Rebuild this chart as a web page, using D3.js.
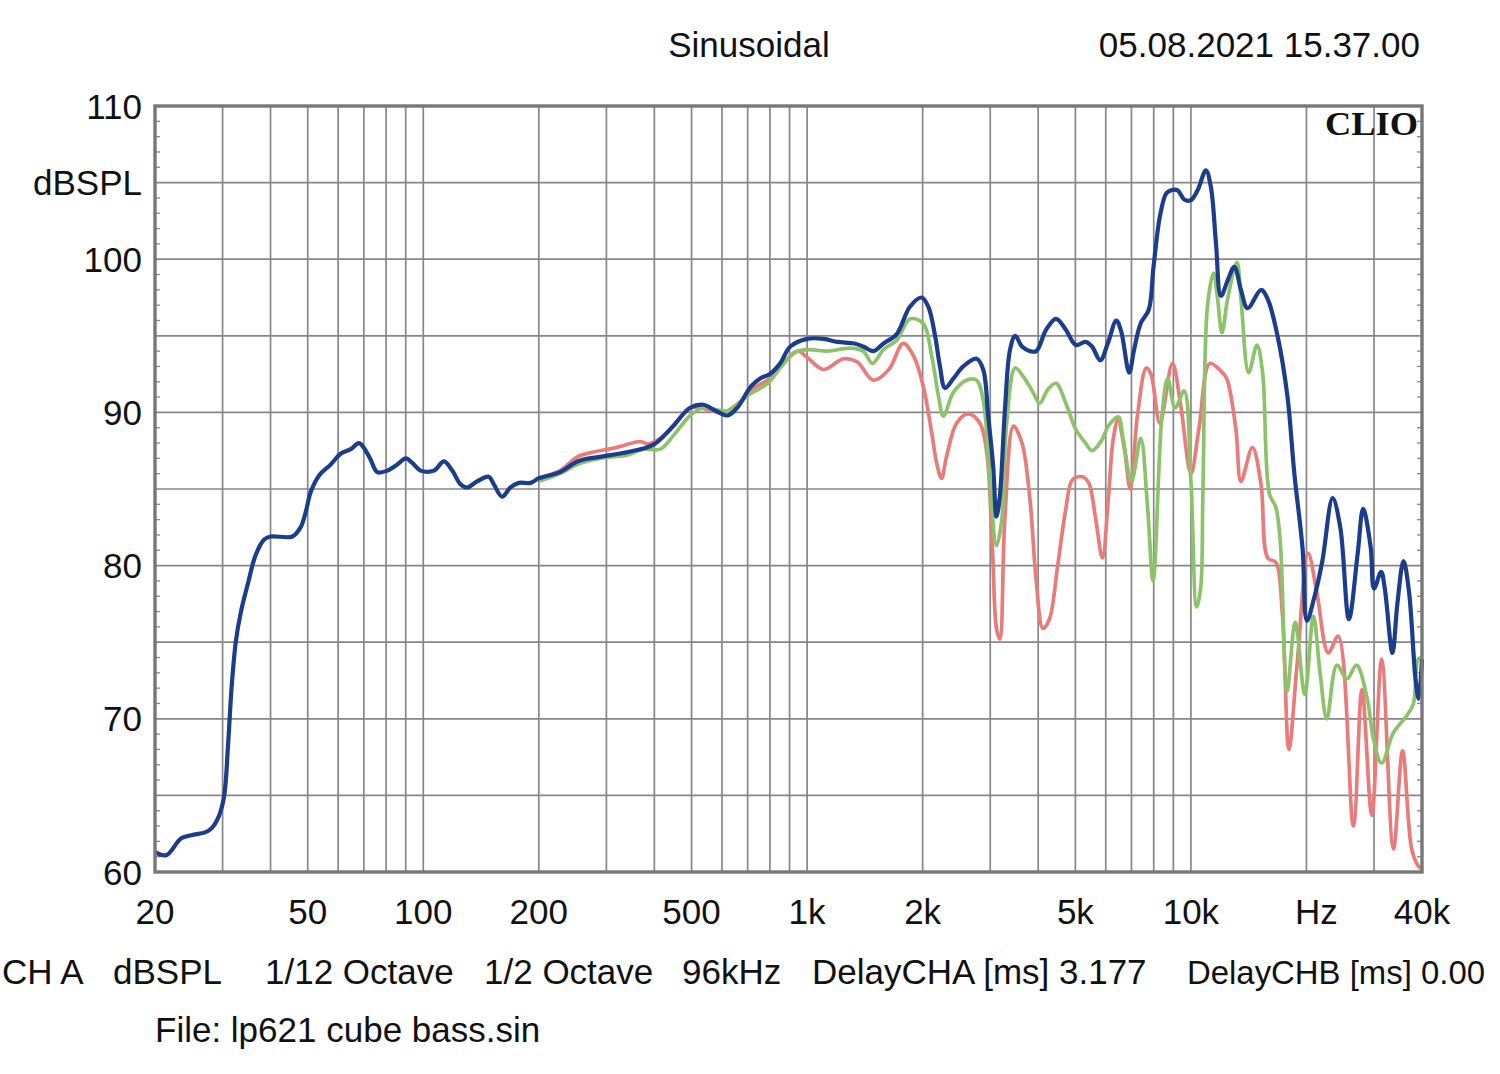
<!DOCTYPE html>
<html>
<head>
<meta charset="utf-8">
<script src="https://cdn.jsdelivr.net/npm/d3@7"></script>
<style>
  html, body { margin: 0; padding: 0; background: #ffffff; }
  svg { display: block; }
  text { font-family: "Liberation Sans", Arial, sans-serif; fill: #111; }
</style>
</head>
<body>
<svg id="chart" width="1500" height="1074"></svg>
<script>
// ---------- data ----------
const titleText = "Sinusoidal";
const dateText = "05.08.2021 15.37.00";
const brandText = "CLIO";
const yUnitLabel = "dBSPL";
const footerItems = ["CH A", "dBSPL", "1/12 Octave", "1/2 Octave", "96kHz", "DelayCHA [ms] 3.177", "DelayCHB [ms] 0.00"];
const fileText = "File: lp621 cube bass.sin";

const yTickLabels = [110, 100, 90, 80, 70, 60];
const xTickLabels = [
  {f: 20, t: "20"}, {f: 50, t: "50"}, {f: 100, t: "100"}, {f: 200, t: "200"},
  {f: 500, t: "500"}, {f: 1000, t: "1k"}, {f: 2000, t: "2k"}, {f: 5000, t: "5k"},
  {f: 10000, t: "10k"}, {f: 20000, t: "Hz"}, {f: 40000, t: "40k"}
];
const xGridFreqs = [20,30,40,50,60,70,80,90,100,200,300,400,500,600,700,800,900,
  1000,2000,3000,4000,5000,6000,7000,8000,9000,10000,20000,30000,40000];

// Blue curve (frequency Hz, dB SPL)
const blueFreq = [20,21.4,23.4,24.9,27.1,28.2,29.4,30.3,31,31.7,32.5,33.5,34.9,36.6,38.5,40,45.6,47.9,49.4,50.9,53.6,57.4,60.9,64.7,68,70.8,73,75.9,80.6,85.6,90,93.6,98.4,106.6,113.2,119,125.1,130.2,138.1,148.1,152.7,160.4,168.7,177.4,190.3,200,227,252,288,339,398,440,496,537,578,621,662,714,758,800,851,904,1000,1104,1199,1328,1400,1489,1581,1711,1853,1988,2069,2155,2219,2287,2404,2552,2764,2876,2964,3053,3114,3177,3277,3379,3485,3630,3808,3956,4196,4452,4722,5010,5313,5525,5804,6091,6390,6579,6906,7112,7396,7765,7991,8303,8629,8888,9232,9603,10000,10408,10942,11274,11618,11972,12462,12972,13502,14055,15230,15852,16813,17833,18600,19540,20050,21000,22000,23400,24500,25800,27200,28100,29400,30000,31300,32000,33500,34500,35800,37000,38500,39200,40000];
const blueDb = [61.3,61.1,62.2,62.4,62.6,62.9,63.7,65.0,68.3,72.2,75.1,77.0,78.8,80.7,81.7,81.9,81.9,82.5,83.5,84.8,85.9,86.6,87.3,87.6,88.0,87.5,86.9,86.1,86.2,86.6,87.0,86.7,86.2,86.2,86.8,86.2,85.3,85.1,85.5,85.8,85.3,84.5,85.1,85.4,85.4,85.7,86.1,86.8,87.1,87.4,87.9,88.9,90.3,90.5,90.1,89.8,90.4,91.7,92.25,92.5,93.2,94.3,94.8,94.8,94.6,94.5,94.3,94.0,94.5,95.1,96.9,97.5,96.9,95.0,93.0,91.6,92.2,93.0,93.5,92.8,89.75,86.5,83.2,84.5,90.2,94.1,95.0,94.3,94.0,94.0,95.4,96.1,95.4,94.4,94.6,94.3,93.4,94.6,96.0,95.3,92.6,94.1,95.8,96.7,99.5,102.8,104.3,104.5,104.5,103.9,103.85,104.5,105.8,104.7,101.1,97.6,98.6,99.5,98.0,96.8,98.0,97.4,95.0,91.1,86.0,81.1,76.4,78.0,80.3,84.4,82.5,76.5,80.8,83.7,81.2,78.5,79.6,78.5,74.3,77.5,80.3,78.3,72.5,71.3,73.9];

// Green curve
const greenFreq = [200,227,252,288,339,374,414,449,496,537,621,700,790,851,925,1000,1128,1300,1400,1480,1581,1711,1853,2008,2111,2198,2265,2404,2604,2764,2876,2998,3114,3209,3311,3485,3667,3881,4037,4238,4452,4722,5010,5313,5525,5862,6091,6470,6643,7000,7400,7700,7970,8400,8700,9100,9600,10000,10350,10600,10750,11050,11458,11736,12045,12462,13181,13502,14140,14862,15373,16011,16646,17100,17800,18700,19800,20850,21700,22600,24000,25500,27000,28700,30000,31400,33700,36500,38000,39100,40000];
const greenDb = [85.5,86.0,86.6,87.0,87.2,87.6,87.6,88.5,89.8,90.3,90.1,91.1,91.9,92.9,93.9,94.1,94.0,94.2,94.0,93.2,94.1,94.7,96.1,95.8,93.7,91.1,89.75,91.3,92.1,92.1,90.8,85.4,81.3,82.8,89.3,92.9,92.3,91.3,90.6,91.5,91.9,90.6,88.9,88.0,87.5,88.2,89.1,89.7,88.45,85.5,88.3,84.0,79.0,89.7,92.2,90.3,91.4,85.5,77.3,78.5,85.0,97.0,99.1,97.4,95.2,97.4,99.8,97.4,92.6,94.4,92.6,84.7,83.8,81.5,71.8,76.3,71.6,76.7,73.0,70.0,73.5,72.6,73.5,71.5,68.5,67.1,69.1,70.2,71.0,73.9,74.0];

// Red curve
const redFreq = [200,227,252,276,318,368,384,414,449,496,548,606,662,728,800,869,946,1000,1104,1243,1350,1488,1633,1780,1892,2008,2111,2175,2240,2310,2453,2630,2818,2931,3041,3114,3177,3277,3450,3630,3808,3956,4115,4278,4497,4722,4913,5209,5418,5636,5880,6091,6271,6454,6710,6950,7253,7650,7866,8300,8950,9400,10000,10500,11200,11972,12400,13099,13502,14460,15230,15852,16646,17314,18000,18942,20200,21300,22800,24200,26500,27900,29600,31400,33700,35600,37600,39100,40000];
const redDb = [85.7,86.2,87.1,87.4,87.7,88.1,87.95,88.3,89.1,90.3,90.2,90.0,90.6,91.6,92.2,93.2,94.0,93.6,92.8,93.5,93.3,92.1,92.8,94.5,93.7,91.7,88.7,86.7,85.7,87.15,89.3,89.9,89.3,87.6,81.1,75.9,75.2,83.2,89.1,88.0,84.3,78.9,75.9,76.5,80.0,83.7,85.6,85.8,85.4,83.2,80.5,84.3,88.2,89.5,87.6,85.0,89.75,92.9,92.5,89.3,93.2,90.5,86.0,89.0,93.2,92.7,92.2,88.9,85.5,87.7,85.3,80.5,80.2,76.8,68.0,73.8,80.8,78.2,74.3,75.4,63.0,71.9,63.7,73.9,61.5,67.9,61.5,60.4,60.2];

// ---------- drawing ----------
const svg = d3.select("#chart");
const pLeft = 155, pRight = 1422, pTop = 106, pBottom = 872;
const x = d3.scaleLog().domain([20, 40000]).range([pLeft, pRight]);
const y = d3.scaleLinear().domain([60, 110]).range([pBottom, pTop]);

const gridColor = "#878787";

// horizontal grid every 5 dB
svg.append("g").selectAll("line").data(d3.range(65, 110, 5)).join("line")
  .attr("x1", pLeft).attr("x2", pRight)
  .attr("y1", d => y(d)).attr("y2", d => y(d))
  .attr("stroke", gridColor).attr("stroke-width", 1.7);

// vertical grid
svg.append("g").selectAll("line").data(xGridFreqs.slice(1, -1)).join("line")
  .attr("x1", d => x(d)).attr("x2", d => x(d))
  .attr("y1", pTop).attr("y2", pBottom)
  .attr("stroke", gridColor).attr("stroke-width", 1.7);

// minor ticks every 1 dB, left and right, pointing inward
const minor = d3.range(61, 110).filter(d => d % 5 !== 0);
svg.append("g").selectAll("line").data(minor).join("line")
  .attr("x1", pLeft).attr("x2", pLeft + 5)
  .attr("y1", d => y(d)).attr("y2", d => y(d))
  .attr("stroke", gridColor).attr("stroke-width", 1.3);
svg.append("g").selectAll("line").data(minor).join("line")
  .attr("x1", pRight - 5).attr("x2", pRight)
  .attr("y1", d => y(d)).attr("y2", d => y(d))
  .attr("stroke", gridColor).attr("stroke-width", 1.3);

// curves
const line = d3.line()
  .x(d => x(d[0])).y(d => y(d[1]))
  .curve(d3.curveCatmullRom.alpha(0.5));

const zip = (a, b) => a.slice(0, Math.min(a.length, b.length)).map((v, i) => [v, b[i]]);

const plot = svg.append("g");
plot.append("path").datum(zip(redFreq, redDb))
  .attr("d", line).attr("fill", "none")
  .attr("stroke", "#ea7b7b").attr("stroke-width", 3.7).attr("stroke-linejoin", "round");
plot.append("path").datum(zip(greenFreq, greenDb))
  .attr("d", line).attr("fill", "none")
  .attr("stroke", "#8cc36a").attr("stroke-width", 3.7).attr("stroke-linejoin", "round");
plot.append("path").datum(zip(blueFreq, blueDb))
  .attr("d", line).attr("fill", "none")
  .attr("stroke", "#1c3c8c").attr("stroke-width", 4.2).attr("stroke-linejoin", "round");

// frame
svg.append("rect")
  .attr("x", pLeft).attr("y", pTop)
  .attr("width", pRight - pLeft).attr("height", pBottom - pTop)
  .attr("fill", "none").attr("stroke", "#777").attr("stroke-width", 3.4);

// y tick labels
const fs = 35;
svg.append("g").selectAll("text").data(yTickLabels).join("text")
  .attr("x", 142).attr("y", d => y(d)).attr("dy", "0.36em")
  .attr("text-anchor", "end").attr("font-size", fs)
  .text(d => d);
svg.append("text")
  .attr("x", 142).attr("y", y(105)).attr("dy", "0.36em")
  .attr("text-anchor", "end").attr("font-size", fs)
  .text(yUnitLabel);

// x tick labels
svg.append("g").selectAll("text").data(xTickLabels).join("text")
  .attr("x", d => x(d.f) + (d.t === "Hz" ? 10 : 0))
  .attr("y", 924)
  .attr("text-anchor", "middle").attr("font-size", fs)
  .text(d => d.t);

// titles
svg.append("text").attr("x", 749).attr("y", 57).attr("text-anchor", "middle")
  .attr("font-size", fs).text(titleText);
svg.append("text").attr("x", 1420).attr("y", 57).attr("text-anchor", "end")
  .attr("font-size", fs).text(dateText);

// CLIO brand
svg.append("text").attr("x", 1325).attr("y", 135)
  .attr("font-weight", "bold").attr("font-size", 33)
  .attr("textLength", 93).attr("lengthAdjust", "spacingAndGlyphs")
  .style("font-family", "'Liberation Serif', 'DejaVu Serif', serif")
  .text(brandText);

// footer
const footerX = [2, 113, 265, 484, 682, 812, 1187];
const footer = svg.append("g").selectAll("text").data(footerItems).join("text")
  .attr("x", (d, i) => footerX[i]).attr("y", 984)
  .attr("font-size", fs).text(d => d);
// last item: keep it inside the picture
footer.filter((d, i) => i === footerItems.length - 1)
  .attr("font-size", 34)
  .attr("textLength", 298).attr("lengthAdjust", "spacingAndGlyphs");
svg.append("text").attr("x", 155).attr("y", 1042)
  .attr("font-size", fs).text(fileText);
</script>
</body>
</html>
